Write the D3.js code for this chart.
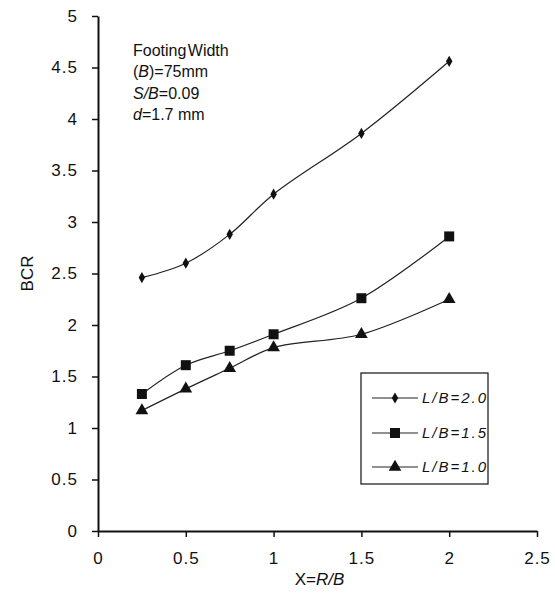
<!DOCTYPE html>
<html>
<head>
<meta charset="utf-8">
<script src="https://cdn.jsdelivr.net/npm/d3@7"></script>
<style>
  body { margin: 0; background: #fff; }
  svg text { font-family: "Liberation Sans", Arial, sans-serif; fill: #111; }
</style>
</head>
<body>
<div id="chart"></div>
<script>
// Data
const xValues = [0.25, 0.5, 0.75, 1.0, 1.5, 2.0];
const bcr20 = [2.46, 2.60, 2.88, 3.27, 3.86, 4.56];
const bcr15 = [1.33, 1.61, 1.75, 1.91, 2.26, 2.86];
const bcr10 = [1.17, 1.38, 1.58, 1.78, 1.91, 2.25];
const seriesNames = ['L/B=2.0', 'L/B=1.5', 'L/B=1.0'];
const xTicks = [0, 0.5, 1, 1.5, 2, 2.5];
const yTicks = [0, 0.5, 1, 1.5, 2, 2.5, 3, 3.5, 4, 4.5, 5];
const noteLines = ['Footing Width', '(B)=75mm', 'S/B=0.09', 'd=1.7 mm'];

const width = 555;
const height = 602;
const margin = { top: 16, right: 18, bottom: 71, left: 98 };

const series = [
    { name: seriesNames[0], values: bcr20, symbol: d3.symbolDiamond, size: 36 },
    { name: seriesNames[1], values: bcr15, symbol: d3.symbolSquare, size: 100 },
    { name: seriesNames[2], values: bcr10, symbol: d3.symbolTriangle, size: 70 },
];

const svg = d3.select('#chart')
    .append('svg')
    .attr('width', width)
    .attr('height', height);

// Scales
const xScale = d3.scaleLinear()
    .domain([0, 2.5])
    .range([margin.left, 537]);

const yScale = d3.scaleLinear()
    .domain([0, 5])
    .range([531, margin.top]);

// Axes
const xAxis = svg.append('g')
    .attr('transform', `translate(0, ${yScale(0)})`)
    .call(d3.axisBottom(xScale).tickValues(xTicks).tickSize(6).tickSizeOuter(0).tickPadding(15)
        .tickFormat(d3.format('')));

const yAxis = svg.append('g')
    .attr('transform', `translate(${xScale(0)}, 0)`)
    .call(d3.axisLeft(yScale).tickValues(yTicks).tickSize(6).tickSizeOuter(0).tickPadding(14)
        .tickFormat(d3.format('')));

[xAxis, yAxis].forEach(ax => {
    ax.select('.domain').attr('stroke', '#111').attr('stroke-width', 2);
    ax.selectAll('.tick line').attr('stroke', '#111').attr('stroke-width', 1.5);
    ax.selectAll('.tick text').attr('font-size', 17).attr('fill', '#111')
        .attr('letter-spacing', 1)
        .style('font-family', '"Liberation Sans", Arial, sans-serif');
});

// Axis titles
const xTitle = svg.append('text')
    .attr('x', (xScale(0) + xScale(2.5)) / 2 + 2)
    .attr('y', 585)
    .attr('text-anchor', 'middle')
    .attr('font-size', 17);
xTitle.append('tspan').text('X=');
xTitle.append('tspan').attr('font-style', 'italic').text('R/B');

svg.append('text')
    .attr('transform', `translate(33, ${yScale(2.5)}) rotate(-90)`)
    .attr('text-anchor', 'middle')
    .attr('font-size', 17)
    .text('BCR');

// Lines
const line = d3.line()
    .x((d, i) => xScale(xValues[i]))
    .y(d => yScale(d))
    .curve(d3.curveCatmullRom.alpha(0.5));

series.forEach(s => {
    svg.append('path')
        .datum(s.values)
        .attr('fill', 'none')
        .attr('stroke', '#222')
        .attr('stroke-width', 1.2)
        .attr('d', line);

    svg.append('g')
        .selectAll('path')
        .data(s.values)
        .join('path')
        .attr('transform', (d, i) => `translate(${xScale(xValues[i])}, ${yScale(d)})`)
        .attr('d', d3.symbol().type(s.symbol).size(s.size))
        .attr('fill', '#111');
});

// Annotation
const noteX = 133;
const note = svg.append('text').attr('font-size', 16);
note.append('tspan').attr('x', noteX).attr('y', 56).attr('word-spacing', -3).text(noteLines[0]);
const l2 = note.append('tspan').attr('x', noteX).attr('y', 77);
l2.append('tspan').text('(');
l2.append('tspan').attr('font-style', 'italic').text('B');
l2.append('tspan').text(')=75mm');
const l3 = note.append('tspan').attr('x', noteX).attr('y', 99);
l3.append('tspan').attr('font-style', 'italic').text('S/B');
l3.append('tspan').text('=0.09');
const l4 = note.append('tspan').attr('x', noteX).attr('y', 120);
l4.append('tspan').attr('font-style', 'italic').text('d');
l4.append('tspan').text('=1.7 mm');

// Legend
const legend = { x: 361, y: 373, w: 127, h: 111 };
svg.append('defs').append('clipPath').attr('id', 'legend-clip')
    .append('rect').attr('x', legend.x).attr('y', legend.y)
    .attr('width', legend.w - 1).attr('height', legend.h);

svg.append('rect')
    .attr('x', legend.x).attr('y', legend.y)
    .attr('width', legend.w).attr('height', legend.h)
    .attr('fill', '#fff').attr('stroke', '#111').attr('stroke-width', 1.2);

const legendRows = [398, 433, 467];
const lg = svg.append('g').attr('clip-path', 'url(#legend-clip)');
series.forEach((s, i) => {
    const y = legendRows[i];
    lg.append('line')
        .attr('x1', 372).attr('x2', 418).attr('y1', y).attr('y2', y)
        .attr('stroke', '#222').attr('stroke-width', 1.2);
    lg.append('path')
        .attr('transform', `translate(395, ${y})`)
        .attr('d', d3.symbol().type(s.symbol).size(s.size))
        .attr('fill', '#111');
    lg.append('text')
        .attr('x', 422).attr('y', y + 5)
        .attr('font-size', 15)
        .attr('font-style', 'italic')
        .attr('letter-spacing', 2)
        .text(s.name);
});
</script>
</body>
</html>
